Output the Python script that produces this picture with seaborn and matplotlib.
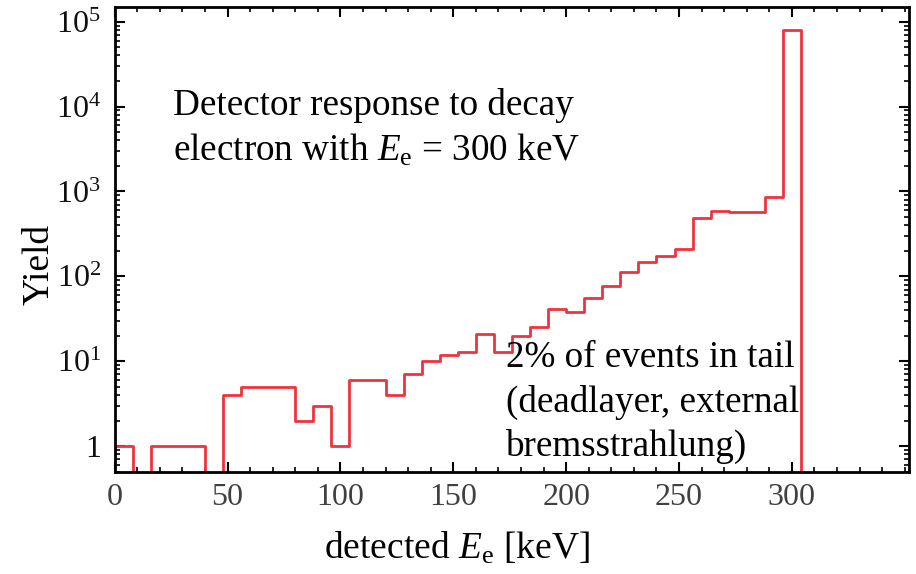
import numpy as np
import pandas as pd
import matplotlib
matplotlib.use("Agg")
import matplotlib.pyplot as plt
from matplotlib.ticker import MultipleLocator, LogLocator, FixedLocator, FixedFormatter, NullFormatter
import seaborn as sns

# Simulated detector response: counts per 8 keV bin
bin_width = 8
e_max = 352
counts = [1, 0, 1, 1, 1, 0, 4, 5, 5, 5,
          2, 3, 1, 6, 6, 4, 7, 10, 12, 13,
          21, 13, 20, 25, 41, 38, 56, 77, 112, 148,
          174, 209, 484, 586, 570, 580, 857, 80500, 0, 0,
          0, 0, 0, 0]

x_ticks = [0, 50, 100, 150, 200, 250, 300]
y_ticks = [1, 10, 100, 1e3, 1e4, 1e5]
y_tick_labels = ["1", "$10^{1}$", "$10^{2}$", "$10^{3}$", "$10^{4}$", "$10^{5}$"]

sns.set_style("ticks")
plt.rcParams["font.family"] = ["Liberation Serif", "DejaVu Serif"]
plt.rcParams["mathtext.fontset"] = "custom"
plt.rcParams["mathtext.rm"] = "Liberation Serif"
plt.rcParams["mathtext.it"] = "Liberation Serif:italic"
plt.rcParams["text.color"] = "black"
plt.rcParams["axes.labelcolor"] = "black"

centers = np.arange(len(counts)) * bin_width + bin_width / 2
df = pd.DataFrame({"energy": centers, "yield": counts})

fig = plt.figure(figsize=(9.16, 5.74), dpi=100)
ax = fig.add_axes([0.1252, 0.1782, 0.8675, 0.8101])

sns.histplot(data=df, x="energy", weights="yield", binwidth=bin_width,
             binrange=(0, e_max), element="step", fill=False,
             color="#ee3340", linewidth=2.0, ax=ax)

ax.set_yscale("log")
ax.set_xlim(0, e_max)
ax.set_ylim(0.5, 1.5e5)

ax.xaxis.set_major_locator(FixedLocator(x_ticks))
ax.xaxis.set_minor_locator(MultipleLocator(10))
ax.yaxis.set_major_locator(FixedLocator(y_ticks))
ax.yaxis.set_major_formatter(FixedFormatter(y_tick_labels))
ax.yaxis.set_minor_locator(LogLocator(base=10, subs=np.arange(2, 10), numticks=20))
ax.yaxis.set_minor_formatter(NullFormatter())

for side in ["left", "right", "top", "bottom"]:
    ax.spines[side].set_visible(True)
    ax.spines[side].set_linewidth(2.0)
    ax.spines[side].set_color("black")

ax.tick_params(which="both", direction="in", top=True, right=True, color="black")
ax.tick_params(which="major", length=7, width=1.5)
ax.tick_params(which="minor", length=3.5, width=1.2)
ax.tick_params(axis="x", which="major", labelsize=23, pad=8, labelcolor="#404040")
ax.tick_params(axis="y", which="major", labelsize=23, pad=10, labelcolor="#111111")

ax.set_xlabel("detected $E_\\mathrm{e}$ [keV]", fontsize=27, color="black")
ax.xaxis.set_label_coords(0.43, -0.125)
ax.set_ylabel("Yield", fontsize=27, color="black")
ax.yaxis.set_label_coords(-0.073, 0.445)

ax.text(0.0734, 0.767, "Detector response to decay", transform=ax.transAxes,
        fontsize=26.7, ha="left", va="baseline", color="black")
ax.text(0.0734, 0.670, "electron with $E_\\mathrm{e}$ = 300 keV", transform=ax.transAxes,
        fontsize=26.7, ha="left", va="baseline", color="black")

for yb, line in zip([0.225, 0.129, 0.0334],
                    ["2% of events in tail", "(deadlayer, external", "bremsstrahlung)"]):
    ax.text(0.493, yb, line, transform=ax.transAxes, fontsize=26.7,
            ha="left", va="baseline", color="black")

fig.savefig("out.png", dpi=100)
